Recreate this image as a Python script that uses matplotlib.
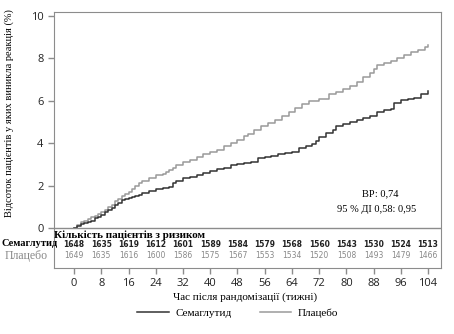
import numpy as np
import matplotlib
matplotlib.use("Agg")
import matplotlib.pyplot as plt
from matplotlib.lines import Line2D

# weeks / cumulative %
sema_t = [0, 1, 2, 3, 4, 5, 6, 7, 8, 9, 10, 11, 12, 13, 14, 15, 16, 17, 18, 19, 20, 22, 24, 26, 28,
          29, 30, 32, 34, 36, 38, 40, 42, 44, 46, 48, 50, 52, 54, 56, 58, 60, 62, 64, 66, 68, 70,
          71, 72, 74, 76, 77, 79, 81, 83, 85, 87, 89, 91, 93, 94, 96, 98, 100, 102, 104]
sema_v = [0, 0.1, 0.2, 0.25, 0.3, 0.35, 0.45, 0.5, 0.6, 0.75, 0.85, 0.95, 1.1, 1.2, 1.3, 1.35, 1.4,
          1.45, 1.5, 1.55, 1.65, 1.75, 1.85, 1.9, 1.95, 2.1, 2.2, 2.35, 2.4, 2.5, 2.6, 2.7, 2.8,
          2.85, 2.95, 3.0, 3.05, 3.1, 3.3, 3.35, 3.4, 3.5, 3.55, 3.6, 3.75, 3.85, 3.95, 4.1, 4.3,
          4.5, 4.6, 4.8, 4.9, 5.0, 5.1, 5.2, 5.3, 5.45, 5.55, 5.6, 5.9, 6.05, 6.1, 6.15, 6.3, 6.45]

plac_t = [0, 1, 2, 3, 4, 5, 6, 7, 8, 9, 10, 11, 12, 13, 14, 15, 16, 17, 18, 19, 20, 22, 24, 26, 27,
          28, 29, 30, 32, 34, 36, 38, 40, 42, 44, 46, 48, 50, 51, 53, 55, 57, 59, 61, 63, 65, 67,
          69, 72, 75, 77, 79, 81, 83, 85, 87, 88, 89, 91, 93, 95, 97, 99, 101, 103, 104]
plac_v = [0, 0.15, 0.3, 0.35, 0.4, 0.5, 0.55, 0.65, 0.75, 0.85, 1.0, 1.1, 1.25, 1.35, 1.5, 1.6, 1.7,
          1.85, 2.0, 2.1, 2.2, 2.35, 2.5, 2.55, 2.65, 2.75, 2.85, 2.95, 3.1, 3.2, 3.35, 3.5, 3.6,
          3.7, 3.85, 4.0, 4.15, 4.35, 4.45, 4.6, 4.8, 4.95, 5.1, 5.3, 5.45, 5.65, 5.85, 6.0, 6.1,
          6.3, 6.4, 6.55, 6.7, 6.9, 7.1, 7.3, 7.5, 7.7, 7.8, 7.9, 8.0, 8.15, 8.3, 8.4, 8.55, 8.65]

weeks = [0, 8, 16, 24, 32, 40, 48, 56, 64, 72, 80, 88, 96, 104]
risk_sema = [1648, 1635, 1619, 1612, 1601, 1589, 1584, 1579, 1568, 1560, 1543, 1530, 1524, 1513]
risk_plac = [1649, 1635, 1616, 1600, 1586, 1575, 1567, 1553, 1534, 1520, 1508, 1493, 1479, 1466]

dark = "#333333"
light = "#9a9a9a"
frame = "#8c8c8c"
serif = "Liberation Serif"
sans = "Open Sans"

fig = plt.figure(figsize=(4.54, 3.34), dpi=100)
ax = fig.add_axes([54 / 454, 1 - 268 / 334, 387 / 454, 256 / 334])

ax.step(plac_t, plac_v, where="post", color=light, lw=1.1)
ax.step(sema_t, sema_v, where="post", color=dark, lw=1.1)
ax.axhline(0, color=frame, lw=1)

ax.set_xlim(-5.9, 107.8)
ax.set_ylim(-1.89, 10.19)
ax.set_yticks(range(0, 11, 2))
ax.set_xticks(weeks)
for s in ax.spines.values():
    s.set_color(frame)
ax.tick_params(colors=frame, labelcolor="#222222", length=4, width=1)
for lb in ax.get_xticklabels() + ax.get_yticklabels():
    lb.set_fontfamily(sans)
    lb.set_fontsize(8)

fig.text(9 / 454, 1 - 113 / 334, "Відсоток пацієнтів у яких виникла реакція (%)", family=serif,
         fontsize=7.5, rotation=90, ha="center", va="center")
fig.text(245 / 454, 1 - 297 / 334, "Час після рандомізації (тижні)", family=serif, fontsize=8,
         ha="center", va="center")

# risk table
ax.text(-5.8, -0.33, "Кількість пацієнтів з ризиком", family=serif, fontsize=8,
        fontweight="bold", va="center", ha="left")
for w, a, b in zip(weeks, risk_sema, risk_plac):
    ax.text(w, -0.76, str(a), ha="center", va="center", fontsize=5.5, fontweight="bold",
            family="DejaVu Sans", color="#222222")
    ax.text(w, -1.32, str(b), ha="center", va="center", fontsize=5.5,
            family="DejaVu Sans", color="#888888")
fig.text(1 / 454, 1 - 244 / 334, "Семаглутид", family=serif, fontsize=7.5, fontweight="bold",
         va="center", ha="left")
fig.text(26 / 454, 1 - 256 / 334, "Плацебо", family=serif, fontsize=8.5, color="#888888",
         va="center", ha="center")

fig.text(380 / 454, 1 - 194 / 334, "ВР: 0,74", family=serif, fontsize=7.5, ha="center",
         va="center")
fig.text(377 / 454, 1 - 209 / 334, "95 % ДІ 0,58: 0,95", family=serif, fontsize=7.5,
         ha="center", va="center")

handles = [Line2D([], [], color=dark, lw=1.1), Line2D([], [], color=light, lw=1.1)]
fig.legend(handles, ["Семаглутид", "Плацебо"], loc="center", bbox_to_anchor=(238 / 454, 1 - 313 / 334),
           ncol=2, frameon=False, prop={"family": serif, "size": 8}, handlelength=2.8,
           handletextpad=0.6, columnspacing=2.6)

fig.savefig("out.png", dpi=100)
